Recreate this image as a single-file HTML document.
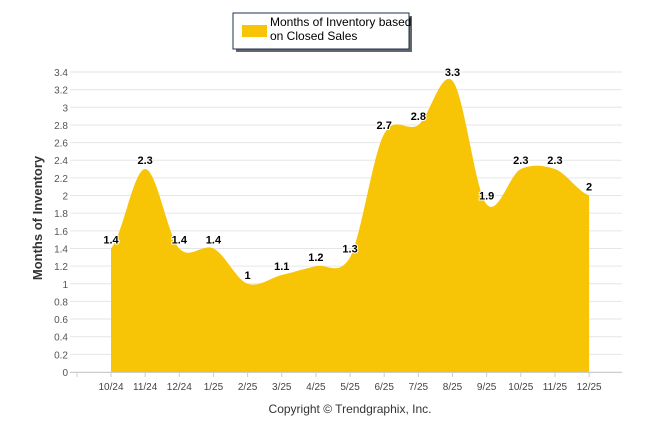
<!DOCTYPE html>
<html><head><meta charset="utf-8"><style>
body{margin:0;background:#fff;font-family:"Liberation Sans",sans-serif}
svg text{font-family:"Liberation Sans",sans-serif}
</style></head><body>
<svg id="c" width="646" height="434">
<g>
<rect x="236" y="16" width="176" height="36" fill="#666"/>
<rect x="233" y="13" width="176" height="36" fill="#fff" stroke="#1f2f55" stroke-width="1"/>
<rect x="242" y="25" width="25" height="12" fill="#f7c406"/>
<text x="270" y="26" font-size="12" fill="#000">Months of Inventory based</text>
<text x="270" y="40" font-size="12" fill="#000">on Closed Sales</text>
</g>
<text transform="translate(42,218) rotate(-90)" text-anchor="middle" font-size="13" font-weight="bold" fill="#333">Months of Inventory</text>
<text x="350" y="413" text-anchor="middle" font-size="12" fill="#333">Copyright © Trendgraphix, Inc.</text>
<g id="grid"></g><g id="area"></g><g id="labels"></g>
</svg>
<script>
const categories=["10/24","11/24","12/24","1/25","2/25","3/25","4/25","5/25","6/25","7/25","8/25","9/25","10/25","11/25","12/25"];
const values=[1.4,2.3,1.4,1.4,1,1.1,1.2,1.3,2.7,2.8,3.3,1.9,2.3,2.3,2];
const yTicks=[0,0.2,0.4,0.6,0.8,1,1.2,1.4,1.6,1.8,2,2.2,2.4,2.6,2.8,3,3.2,3.4];
const NS="http://www.w3.org/2000/svg";
const y=v=>372-v*300/3.4;
const x=i=>111+i*34.15;
function mk(t,a,p){const e=document.createElementNS(NS,t);for(const k in a)e.setAttribute(k,a[k]);p.appendChild(e);return e;}
const grid=document.getElementById('grid');
yTicks.forEach(v=>{
 const l=mk('line',{x1:70,x2:622,y1:y(v),y2:y(v),stroke:'#e6e6e6'},grid);
 
 
 const t=mk('text',{x:68,y:y(v)+4,'text-anchor':'end','font-size':10,fill:'#555'},grid);
 t.textContent=v;
 
 
});
const ax=mk('line',{x1:70,x2:622,y1:372.5,y2:372.5,stroke:'#ccc'},grid);


categories.forEach((c,i)=>{
 const tk=mk('line',{x1:x(i),x2:x(i),y1:372,y2:377,stroke:'#ccc'},grid);
 
 
 const t=mk('text',{x:x(i),y:390,'text-anchor':'middle','font-size':10,fill:'#444'},grid);
 t.textContent=c;
 
 
});
const lt=mk('line',{x1:77,x2:77,y1:372,y2:377,stroke:'#ccc'},grid);


// smooth path
const pts=values.map((v,i)=>[x(i),y(v)]);
let d=`M${pts[0][0]},372 L${pts[0][0]},${pts[0][1]}`;
for(let i=0;i<pts.length-1;i++){
 const p0=pts[Math.max(i-1,0)],p1=pts[i],p2=pts[i+1],p3=pts[Math.min(i+2,pts.length-1)];
 const t=0.3;
 const c1=[p1[0]+(p2[0]-p0[0])*t/ (i==0?2:2)*1, p1[1]+(p2[1]-p0[1])*t/2];
 const c2=[p2[0]-(p3[0]-p1[0])*t/2, p2[1]-(p3[1]-p1[1])*t/2];
 c1[0]=p1[0]+(p2[0]-p1[0])/3; c2[0]=p2[0]-(p2[0]-p1[0])/3;
 d+=` C${c1[0]},${c1[1]} ${c2[0]},${c2[1]} ${p2[0]},${p2[1]}`;
}
d+=` L${pts[pts.length-1][0]},372 Z`;
const a=mk('path',{d:d,fill:'#f7c406'},document.getElementById('area'));


const lg=document.getElementById('labels');
values.forEach((v,i)=>{
 const t=mk('text',{x:x(i),y:y(v)-5,'text-anchor':'middle','font-size':11,'font-weight':'bold',fill:'#000',stroke:'#fff','stroke-width':2,'paint-order':'stroke'},lg);
 t.textContent=v;
 
 
});
</script>
</body></html>
